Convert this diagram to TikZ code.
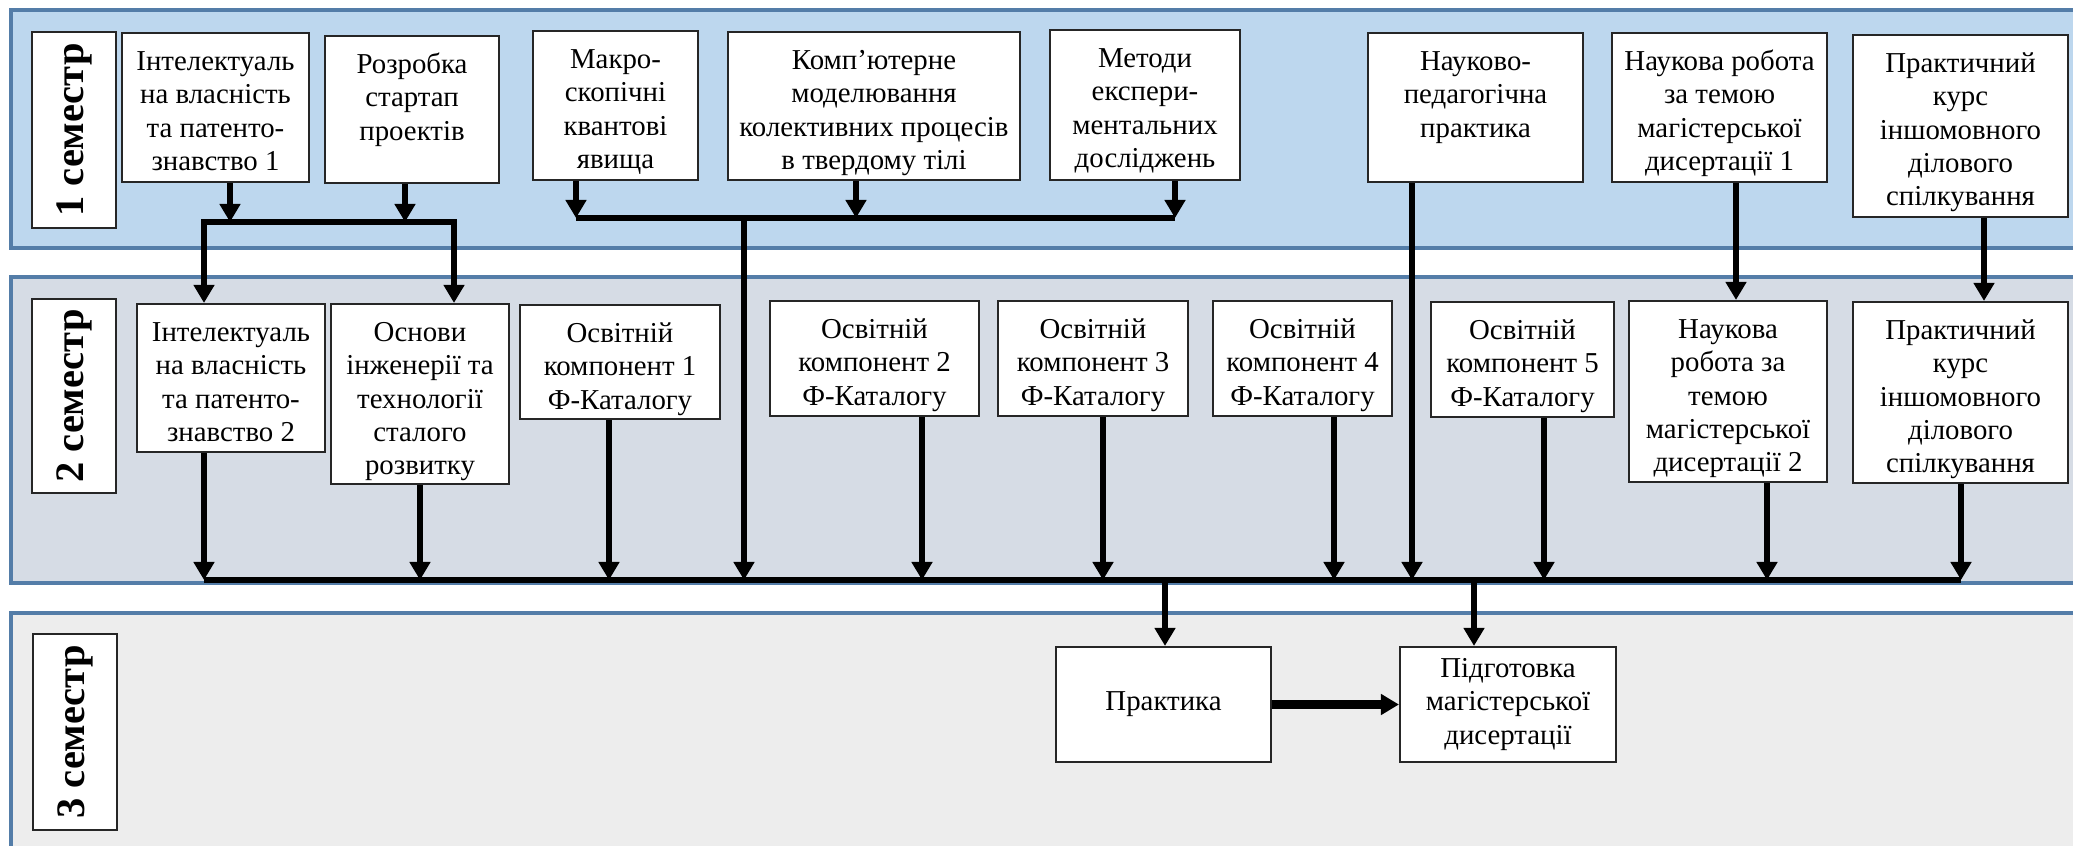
\documentclass[tikz,border=0pt]{standalone}
\usepackage{fontspec}
\setmainfont{Liberation Serif}
\usetikzlibrary{fit,calc,positioning,arrows.meta}

\definecolor{bandA}{RGB}{189,215,238}
\definecolor{bandB}{RGB}{214,220,229}
\definecolor{bandC}{RGB}{237,237,237}
\definecolor{bandline}{RGB}{84,125,168}

\begin{document}
\begin{tikzpicture}[x=0.01cm,y=-0.01cm,>={Triangle[length=1.8mm,width=2mm]},
    band/.style={draw=bandline,line width=0.9pt},
    box/.style={draw=black!85,line width=0.6pt,fill=white,inner sep=0pt},
    txt/.style={align=center,inner sep=0pt,font=\fontsize{8.2}{9.45}\selectfont},
    semtxt/.style={rotate=90,inner sep=0pt,font=\fontsize{11.5}{13}\selectfont\bfseries},
    link/.style={->,line width=1.7pt},
    bus/.style={line width=1.7pt}]
  \useasboundingbox (0,0) rectangle (2073,846);
  \clip (0,0) rectangle (2073,846);
  \fill[white] (0,0) rectangle (2073,846);
  % semester bands
  \draw[band,fill=bandA] (11,10) rectangle (2090,248);
  \draw[band,fill=bandB] (11,277) rectangle (2090,583);
  \draw[band,fill=bandC] (11,613) rectangle (2090,870);
  \node[box,fit={(32,32) (116,228)}] (s_1) {};
  \node[semtxt] (st_1) at (s_1) {1 семестр};
  \node[box,fit={(32,299) (116,493)}] (s_2) {};
  \node[semtxt] (st_2) at (s_2) {2 семестр};
  \node[box,fit={(33,634) (117,830)}] (s_3) {};
  \node[semtxt] (st_3) at (s_3) {3 семестр};

  % 1 semester
  \node[box,fit={(122,33) (309,182)}] (a_1) {};
  \node[txt,below=4.2pt of a_1.north] (at_1) {\strut Інтелектуаль\\на власність\\та патенто-\\знавство 1};
  \node[box,fit={(325,36) (499,183)}] (a_2) {};
  \node[txt,below=4.2pt of a_2.north] (at_2) {\strut Розробка\\стартап\\проектів};
  \node[box,fit={(533,31) (698,180)}] (a_3) {};
  \node[txt,below=4.2pt of a_3.north] (at_3) {\strut Макро-\\скопічні\\квантові\\явища};
  \node[box,fit={(728,32) (1020,180)}] (a_4) {};
  \node[txt,below=4.2pt of a_4.north] (at_4) {\strut Комп’ютерне\\моделювання\\колективних процесів\\в твердому тілі};
  \node[box,fit={(1050,30) (1240,180)}] (a_5) {};
  \node[txt,below=4.2pt of a_5.north] (at_5) {\strut Методи\\експери-\\ментальних\\досліджень};
  \node[box,fit={(1368,33) (1583,182)}] (a_6) {};
  \node[txt,below=4.2pt of a_6.north] (at_6) {\strut Науково-\\педагогічна\\практика};
  \node[box,fit={(1612,33) (1827,182)}] (a_7) {};
  \node[txt,below=4.2pt of a_7.north] (at_7) {\strut Наукова робота\\за темою\\магістерської\\дисертації 1};
  \node[box,fit={(1853,35) (2068,217)}] (a_8) {};
  \node[txt,below=4.2pt of a_8.north] (at_8) {\strut Практичний\\курс\\іншомовного\\ділового\\спілкування};

  % 2 semester
  \node[box,fit={(137,304) (325,452)}] (b_1) {};
  \node[txt,below=4.2pt of b_1.north] (bt_1) {\strut Інтелектуаль\\на власність\\та патенто-\\знавство 2};
  \node[box,fit={(331,304) (509,484)}] (b_2) {};
  \node[txt,below=4.2pt of b_2.north] (bt_2) {\strut Основи\\інженерії та\\технології\\сталого\\розвитку};
  \node[box,fit={(520,305) (720,419)}] (b_3) {};
  \node[txt,below=4.2pt of b_3.north] (bt_3) {\strut Освітній\\компонент 1\\Ф-Каталогу};
  \node[box,fit={(770,301) (979,416)}] (b_4) {};
  \node[txt,below=4.2pt of b_4.north] (bt_4) {\strut Освітній\\компонент 2\\Ф-Каталогу};
  \node[box,fit={(998,301) (1188,416)}] (b_5) {};
  \node[txt,below=4.2pt of b_5.north] (bt_5) {\strut Освітній\\компонент 3\\Ф-Каталогу};
  \node[box,fit={(1213,301) (1392,416)}] (b_6) {};
  \node[txt,below=4.2pt of b_6.north] (bt_6) {\strut Освітній\\компонент 4\\Ф-Каталогу};
  \node[box,fit={(1431,302) (1614,417)}] (b_7) {};
  \node[txt,below=4.2pt of b_7.north] (bt_7) {\strut Освітній\\компонент 5\\Ф-Каталогу};
  \node[box,fit={(1629,301) (1827,482)}] (b_8) {};
  \node[txt,below=4.2pt of b_8.north] (bt_8) {\strut Наукова\\робота за\\темою\\магістерської\\дисертації 2};
  \node[box,fit={(1853,302) (2068,483)}] (b_9) {};
  \node[txt,below=4.2pt of b_9.north] (bt_9) {\strut Практичний\\курс\\іншомовного\\ділового\\спілкування};

  % 3 semester
  \node[box,fit={(1056,647) (1271,762)}] (prac) {};
  \node[txt] (pt) at (prac) {Практика};
  \node[box,fit={(1400,647) (1616,762)}] (thes) {};
  \node[txt] (tt) at (thes) {Підготовка\\магістерської\\дисертації};

  % links
  \draw[link] (230,0 |- a_1.south) -- (230,222);
  \draw[link] (405,0 |- a_2.south) -- (405,222);
  \draw[<->,line width=1.7pt] (204,0 |- b_1.north) -- (204,222) -- (454,222) -- (454,0 |- b_2.north);
  \draw[link] (576,0 |- a_3.south) -- (576,218);
  \draw[link] (856,0 |- a_4.south) -- (856,218);
  \draw[link] (1175,0 |- a_5.south) -- (1175,218);
  \draw[bus] (576,218) -- (1175,218);
  \draw[link] (744,218) -- (744,580);
  \draw[link] (1412,0 |- a_6.south) -- (1412,580);
  \draw[link] (1736,0 |- a_7.south) -- (1736,0 |- b_8.north);
  \draw[link] (1984,0 |- a_8.south) -- (1984,0 |- b_9.north);
  \draw[bus] (204,580) -- (1961,580);
  \foreach \x/\n in {204/1,420/2,609/3,922/4,1103/5,1334/6,1544/7,1767/8,1961/9}
    \draw[link] (\x,0 |- b_\n.south) -- (\x,580);
  \draw[link] (1165,580) -- (1165,0 |- prac.north);
  \draw[link] (1474,580) -- (1474,0 |- thes.north);
  \draw[->,line width=2.4pt] (prac) -- (thes);
\end{tikzpicture}
\end{document}
